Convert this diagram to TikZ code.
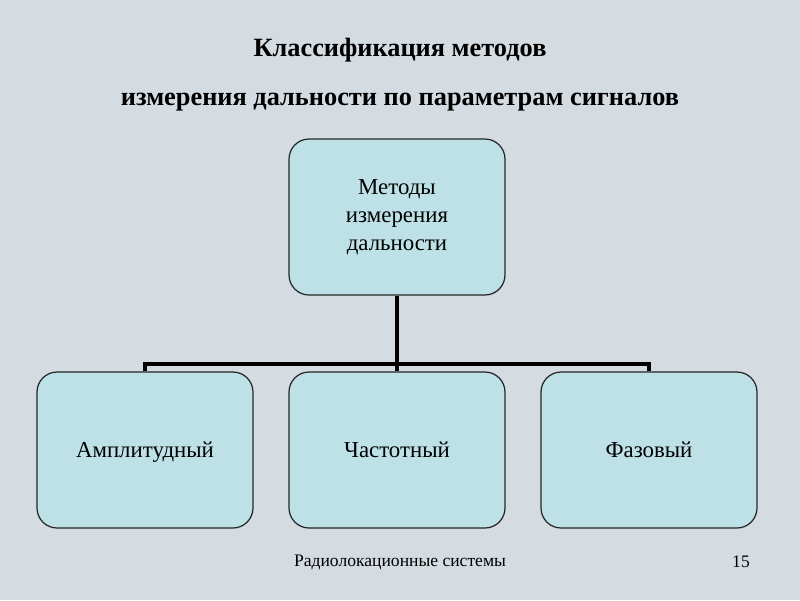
\documentclass[tikz,border=0pt]{standalone}
\usepackage{fontspec}
\setmainfont{Liberation Serif}
\usetikzlibrary{positioning}
\definecolor{sky}{RGB}{212,220,226}
\definecolor{boxfill}{RGB}{189,225,230}

\begin{document}
\begin{tikzpicture}[
    x=0.02cm,
    y=-0.02cm,
    every node/.style={font=\fontsize{13}{16}\selectfont},
    method/.style={draw=black!85, line width=0.7pt, fill=boxfill,
      rounded corners=0.4cm, minimum width=4.32cm, minimum height=3.12cm,
      align=center, inner sep=2pt},
    leaf/.style={method, text height=0.9em, text depth=0.1em},
    link/.style={draw=black, line width=2.3pt},
    heading/.style={font=\fontsize{15}{18}\bfseries\selectfont},
    foot/.style={font=\fontsize{10}{12}\selectfont}
  ]
    % Page background, 800 x 600 units.
    \fill[sky] (0,0) rectangle (800,600);
    \useasboundingbox (0,0) rectangle (800,600);

    % Title.
    \node[heading] (title1) at (400,50) {Классификация методов};
    \node[heading] (title2) at (400,102) {измерения дальности по параметрам сигналов};

    % Boxes of the tree.
    \node[method] (root) at (397,217) {Методы\\измерения\\дальности};
    \node[leaf] (amp) at (145,450) {Амплитудный};
    \node[leaf] (freq) at (397,450) {Частотный};
    \node[leaf] (phase) at (649,450) {Фазовый};

    % Connectors.
    \coordinate (bus) at (397,364);
    \draw[link] (root.south) -- (freq.north);
    \draw[link] (amp.north) |- (bus) -| (phase.north);

    % Footer.
    \node[foot] (footer) at (400,562) {Радиолокационные системы};
    \node[foot] (pageno) at (741,562) {15};
  \end{tikzpicture}
\end{document}
